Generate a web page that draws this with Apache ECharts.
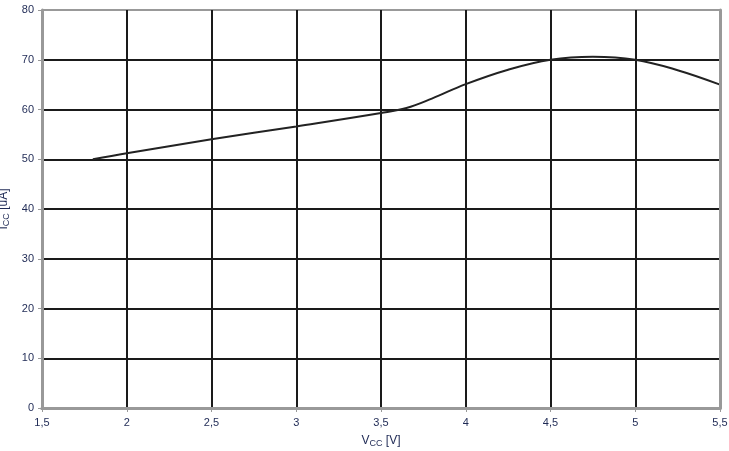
<!DOCTYPE html>
<html><head><meta charset="utf-8">
<script src="https://cdn.jsdelivr.net/npm/echarts@6/dist/echarts.min.js"></script>
<style>html,body{margin:0;padding:0;background:#fff}#c{width:729px;height:451px}</style>
</head><body><div id="c"></div>
<script>
var vcc = [1.8, 2.0, 2.5, 3.0, 3.5, 3.65, 3.8, 4.0, 4.25, 4.5, 4.75, 5.0, 5.25, 5.5];
var icc = [50, 51.2, 54, 56.6, 59.3, 60.3, 62.2, 65.1, 68, 70, 70.6, 70, 67.9, 65];
var xTicks = {min: 1.5, max: 5.5, step: 0.5};
var yTicks = {min: 0, max: 80, step: 10};

var chart = echarts.init(document.getElementById('c'));
var lblColor = '#1f2a55';
var frameLine = {show: true, lineStyle: {color: '#999', width: 3}};
function gridColors(n) {
  var a = ['#999'];
  for (var i = 1; i < n - 1; i++) a.push('#1a1a1a');
  a.push('#999');
  return a;
}
var nx = Math.round((xTicks.max - xTicks.min) / xTicks.step) + 1;
var ny = Math.round((yTicks.max - yTicks.min) / yTicks.step) + 1;
chart.setOption({
  animation: false,
  grid: {left: 42, right: 9, top: 10, bottom: 43, containLabel: false, outerBoundsMode: 'none'},
  xAxis: [{
    type: 'value', min: xTicks.min, max: xTicks.max, interval: xTicks.step,
    name: '{a|V}{s|CC}{a| [V]}', nameLocation: 'middle', nameGap: 25,
    nameTextStyle: {rich: {a: {fontFamily: 'Liberation Sans', fontSize: 12, color: lblColor}, s: {fontFamily: 'Liberation Sans', fontSize: 9, color: lblColor, verticalAlign: 'bottom', padding: [6, 0, 0, 0]}}},
    axisLine: frameLine,
    axisTick: {show: true, length: 4, lineStyle: {color: '#999', width: 1}},
    axisLabel: {fontFamily: 'Liberation Sans', fontSize: 11, color: lblColor, margin: 9,
      formatter: function (v) { return String(v).replace('.', ','); }},
    splitLine: {show: true, lineStyle: {color: gridColors(nx), width: 2}}
  }, {
    type: 'value', position: 'top', min: xTicks.min, max: xTicks.max, interval: xTicks.step,
    axisLine: frameLine, axisTick: {show: false}, axisLabel: {show: false}, splitLine: {show: false}, z: 10
  }],
  yAxis: [{
    type: 'value', min: yTicks.min, max: yTicks.max, interval: yTicks.step,
    name: '{a|I}{s|CC}{a| [uA]}', nameLocation: 'middle', nameGap: 28, nameRotate: 90,
    nameTextStyle: {rich: {a: {fontFamily: 'Liberation Sans', fontSize: 12, color: lblColor}, s: {fontFamily: 'Liberation Sans', fontSize: 9, color: lblColor, verticalAlign: 'bottom', padding: [6, 0, 0, 0]}}},
    axisLine: frameLine,
    axisTick: {show: true, length: 4, lineStyle: {color: '#999', width: 1}},
    axisLabel: {fontFamily: 'Liberation Sans', fontSize: 11, color: lblColor, margin: 8},
    splitLine: {show: true, lineStyle: {color: gridColors(ny), width: 2}}
  }, {
    type: 'value', position: 'right', min: yTicks.min, max: yTicks.max, interval: yTicks.step,
    axisLine: frameLine, axisTick: {show: false}, axisLabel: {show: false}, splitLine: {show: false}, z: 10
  }],
  series: [{
    type: 'line', data: vcc.map(function (x, i) { return [x, icc[i]]; }),
    smooth: 0.4, showSymbol: false, lineStyle: {color: '#222', width: 2}, z: 5
  }]
});
</script></body></html>
